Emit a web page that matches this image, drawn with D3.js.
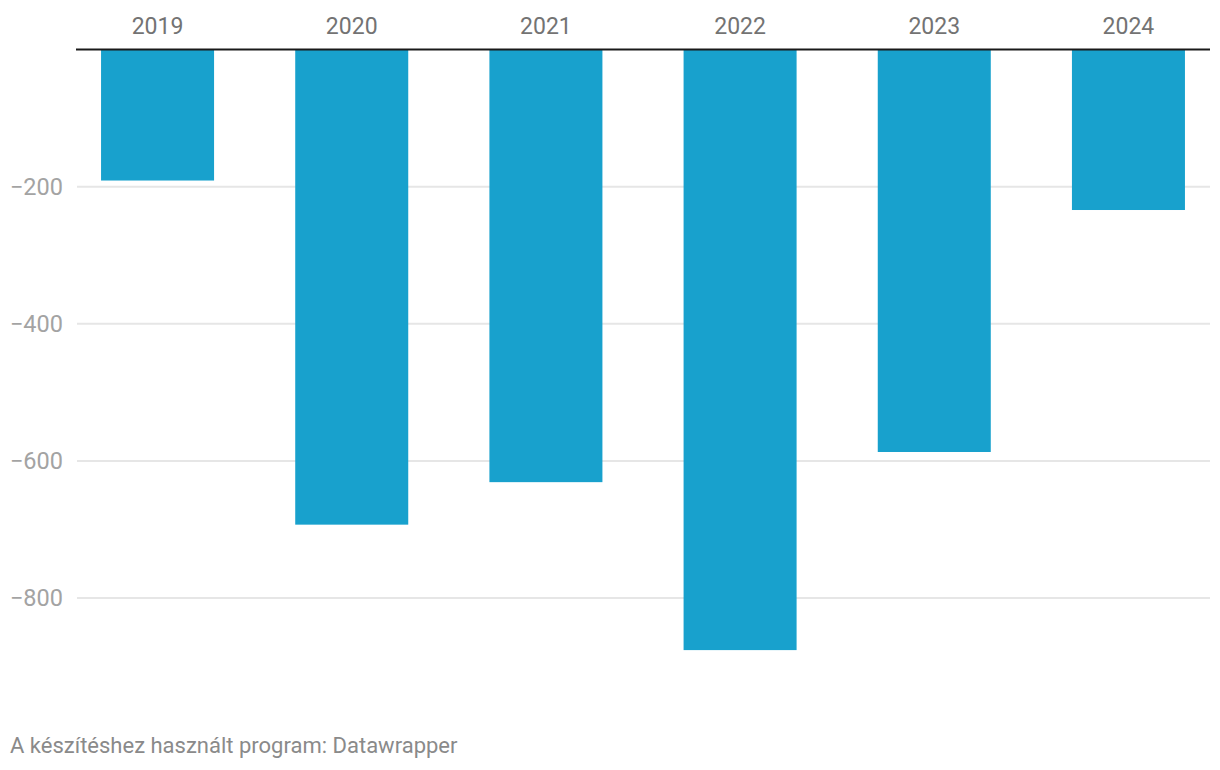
<!DOCTYPE html>
<html><head><meta charset="utf-8">
<script src="https://cdn.jsdelivr.net/npm/d3@7"></script>
<style>
html,body{margin:0;padding:0;background:#fff;}
svg{display:block;font-family:Roboto, sans-serif;}
</style></head>
<body>
<svg id="chart" width="1220" height="770"></svg>
<script>
const years = ["2019","2020","2021","2022","2023","2024"];
const values = [-191, -693, -631, -876, -587, -234];
const yTicks = [-200, -400, -600, -800];
const footer = "A készítéshez használt program: Datawrapper";

const svg = d3.select("#chart");
const x = d3.scaleBand().domain(years).range([76, 1210]).paddingInner(0.418).paddingOuter(0.129);
const y = d3.scaleLinear().domain([0, -800]).range([49.6, 598]);

// gridlines
svg.append("g").selectAll("line").data(yTicks).join("line")
  .attr("x1", 77).attr("x2", 1210)
  .attr("y1", d => y(d)).attr("y2", d => y(d))
  .attr("stroke", "#e6e6e6").attr("stroke-width", 2);

// y labels
svg.append("g").selectAll("text").data(yTicks).join("text")
  .attr("x", 63).attr("y", d => y(d)).attr("dy", "0.35em")
  .attr("text-anchor", "end").attr("fill", "#a3a3a3")
  .attr("font-size", 23.5)
  .text(d => "\u2212" + Math.abs(d));

// bars
svg.append("g").selectAll("rect").data(values).join("rect")
  .attr("x", (d, i) => x(years[i]))
  .attr("width", x.bandwidth())
  .attr("y", d => y(0))
  .attr("height", d => y(d) - y(0))
  .attr("fill", "#18a1cd");

// zero axis line
svg.append("line").attr("x1", 76).attr("x2", 1210)
  .attr("y1", y(0)).attr("y2", y(0))
  .attr("stroke", "#1a1a1a").attr("stroke-width", 2);

// year labels
svg.append("g").selectAll("text").data(years).join("text")
  .attr("x", d => x(d) + x.bandwidth() / 2).attr("y", 34)
  .attr("text-anchor", "middle").attr("fill", "#737373")
  .attr("font-size", 23)
  .text(d => d);

// footer
svg.append("text").attr("x", 10).attr("y", 753)
  .attr("fill", "#8a8a8a").attr("font-size", 22)
  .text(footer);
</script>
</body></html>
